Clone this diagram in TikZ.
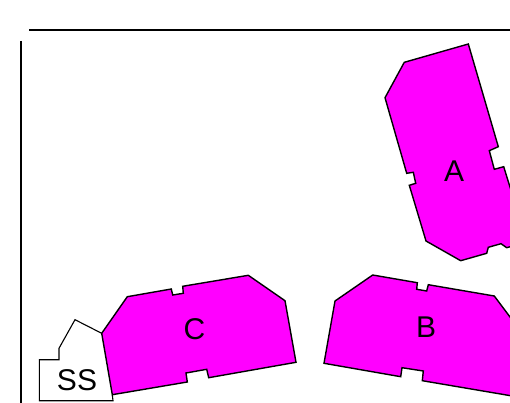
\documentclass[tikz,border=0pt]{standalone}
\usepackage{fontspec}
\setmainfont{Liberation Sans}
\usepackage{xcolor}
\definecolor{wing}{RGB}{255,0,255}
\tikzset{
    wingshape/.style={draw=black, fill=wing, line width=1.4pt, line join=miter},
    smallshape/.style={draw=black, fill=white, line width=1.1pt},
    axisline/.style={draw=black, line width=1.1pt},
    wingname/.style={font=\fontsize{30}{30}\selectfont, inner sep=0pt}
}

\begin{document}
\begin{tikzpicture}[x=1pt, y=-1pt]
        \useasboundingbox (0, 0) rectangle (510, 403);
        \clip (0, 0) rectangle (510, 403);

        \coordinate (topl) at (29, 30);
        \coordinate (topr) at (510, 30);
        \coordinate (leftt) at (21, 41);
        \coordinate (leftb) at (21, 403);
        \draw[axisline] (topl) -- (topr);
        \draw[axisline] (leftt) -- (leftb);

        \draw[smallshape] (101.7, 333.3) -- (75, 319.7) -- (59, 348.3) -- (59, 359.7)
            -- (39.3, 359.7) -- (39.3, 400.7) -- (113, 400.7) -- (112.3, 394.7);

        \draw[wingshape] (468.3, 44) -- (404.3, 62.3) -- (385, 97.7) -- (406.7, 173.3)
            -- (413.3, 172.3) -- (415.7, 183.3) -- (409.3, 185.3) -- (426, 241)
            -- (460.7, 260.7) -- (486.7, 253.3) -- (488.3, 247.3) -- (501, 243.7)
            -- (506.7, 247.7) -- (527, 242) -- (503.7, 166.7) -- (494.3, 169.3)
            -- (489.3, 150.7) -- (498.3, 146.7) -- cycle;

        \draw[wingshape] (372.7, 275) -- (417.3, 282.7) -- (416.7, 289.3) -- (426.7, 291)
            -- (428.3, 284.7) -- (494.3, 296) -- (525, 337) -- (530, 399)
            -- (422.3, 380.7) -- (423.3, 371) -- (402, 367.7) -- (400.7, 376.7)
            -- (324, 363.3) -- (335, 301) -- cycle;

        \draw[wingshape] (248.3, 275.3) -- (182.7, 286.3) -- (183.3, 293.3) -- (172.7, 295)
            -- (171.3, 289) -- (127.3, 296.7) -- (101.7, 333.3) -- (112.3, 394.7)
            -- (187.3, 382) -- (186, 373) -- (206.7, 369.3) -- (208.7, 377.7)
            -- (296, 362.3) -- (285, 300.7) -- cycle;

        \node[wingname] (a) at (454, 171) {A};
        \node[wingname] (b) at (426, 327) {B};
        \node[wingname] (c) at (194.5, 329) {C};
        \node[wingname] (ss) at (77, 380) {SS};
    \end{tikzpicture}
\end{document}
